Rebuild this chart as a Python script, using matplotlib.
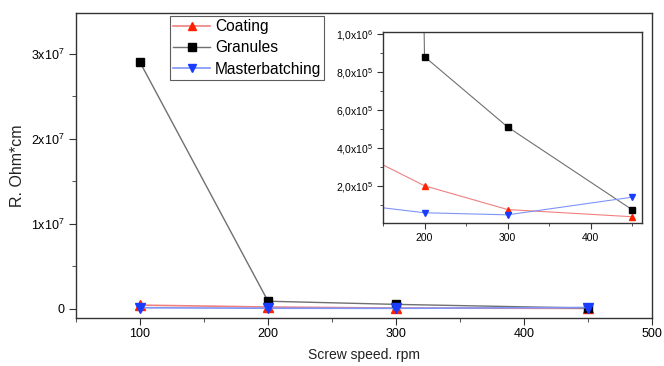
import matplotlib
matplotlib.use("Agg")
import matplotlib.pyplot as plt
from matplotlib.ticker import MultipleLocator, FixedLocator, FuncFormatter

plt.rcParams['font.family'] = ['Liberation Sans', 'DejaVu Sans']
plt.rcParams['mathtext.fontset'] = 'custom'
plt.rcParams['mathtext.rm'] = 'Liberation Sans'

speed = [100, 200, 300, 450]
coating = [4.2e5, 2.0e5, 7.5e4, 3.7e4]
granules = [2.9e7, 8.8e5, 5.1e5, 7.4e4]
masterbatching = [1.1e5, 5.8e4, 4.7e4, 1.4e5]

main_yticks = [0, 1e7, 2e7, 3e7]
main_ylabels = ['0', '1x10$^{\\mathregular{7}}$', '2x10$^{\\mathregular{7}}$', '3x10$^{\\mathregular{7}}$']
inset_yticks = [2e5, 4e5, 6e5, 8e5, 1e6]

red_m, red_l = '#ff2200', '#f08080'
blk_m, blk_l = '#000000', '#707070'
blu_m, blu_l = '#1a3cff', '#7f95f5'

fig = plt.figure(figsize=(6.64, 3.66), dpi=100)
ax = fig.add_axes([0.1145, 0.131, 0.8675, 0.8335])

ax.plot(speed, coating, color=red_l, lw=1.2, marker='^', ms=7, mfc=red_m, mec=red_m, label='Coating')
ax.plot(speed, granules, color=blk_l, lw=1.0, marker='s', ms=6, mfc=blk_m, mec=blk_m, label='Granules')
ax.plot(speed, masterbatching, color=blu_l, lw=1.2, marker='v', ms=7, mfc=blu_m, mec=blu_m, label='Masterbatching')

ax.set_xlim(50, 500)
ax.set_ylim(-1.1e6, 3.48e7)
ax.xaxis.set_major_locator(MultipleLocator(100))
ax.xaxis.set_minor_locator(MultipleLocator(50))
ax.yaxis.set_major_locator(FixedLocator(main_yticks))
ax.yaxis.set_minor_locator(MultipleLocator(5e6))
ax.set_yticklabels(main_ylabels)
ax.tick_params(which='both', direction='out', labelsize=9, color='#333333')
ax.tick_params(axis='x', pad=2)
ax.tick_params(which='major', length=5)
ax.tick_params(which='minor', length=3)
ax.set_xlabel('Screw speed. rpm', fontsize=10, color='#222222', labelpad=6)
ax.set_ylabel('R. Ohm*cm', fontsize=11.5, color='#222222', labelpad=4)
for s in ax.spines.values():
    s.set_color('#333333')
    s.set_linewidth(1.0)

leg = ax.legend(loc='upper left', bbox_to_anchor=(0.163, 0.99), fontsize=11.2,
                frameon=True, fancybox=False, edgecolor='#333333', borderpad=0.2,
                labelspacing=0.4, handlelength=2.4, handletextpad=0.3, borderaxespad=0,
                markerscale=0.85)
leg.get_frame().set_linewidth(0.8)

ins = fig.add_axes([0.5768, 0.3907, 0.3902, 0.5219])
ins.plot(speed, coating, color=red_l, lw=0.8, marker='^', ms=4.5, mfc=red_m, mec=red_m)
ins.plot(speed, granules, color=blk_l, lw=0.8, marker='s', ms=4, mfc=blk_m, mec=blk_m)
ins.plot(speed, masterbatching, color=blu_l, lw=0.8, marker='v', ms=4.5, mfc=blu_m, mec=blu_m)
ins.set_xlim(150, 462)
ins.set_ylim(4e3, 1.01e6)
ins.xaxis.set_major_locator(FixedLocator([200, 300, 400]))
ins.xaxis.set_minor_locator(FixedLocator([150, 250, 350, 450]))
ins.yaxis.set_major_locator(FixedLocator(inset_yticks))
ins.yaxis.set_minor_locator(FixedLocator([1e5, 3e5, 5e5, 7e5, 9e5]))

def fmt(v, pos):
    exp = 6 if v >= 1e6 else 5
    mant = v / 10 ** exp
    return ('%.1f' % mant).replace('.', ',') + 'x10$^{\\mathregular{%d}}$' % exp

ins.yaxis.set_major_formatter(FuncFormatter(fmt))
ins.tick_params(which='both', direction='out', labelsize=7.5, color='#333333')
ins.tick_params(which='major', length=4)
ins.tick_params(which='minor', length=2.5)
for s in ins.spines.values():
    s.set_color('#333333')
    s.set_linewidth(1.0)

fig.savefig('out.png', dpi=100)
